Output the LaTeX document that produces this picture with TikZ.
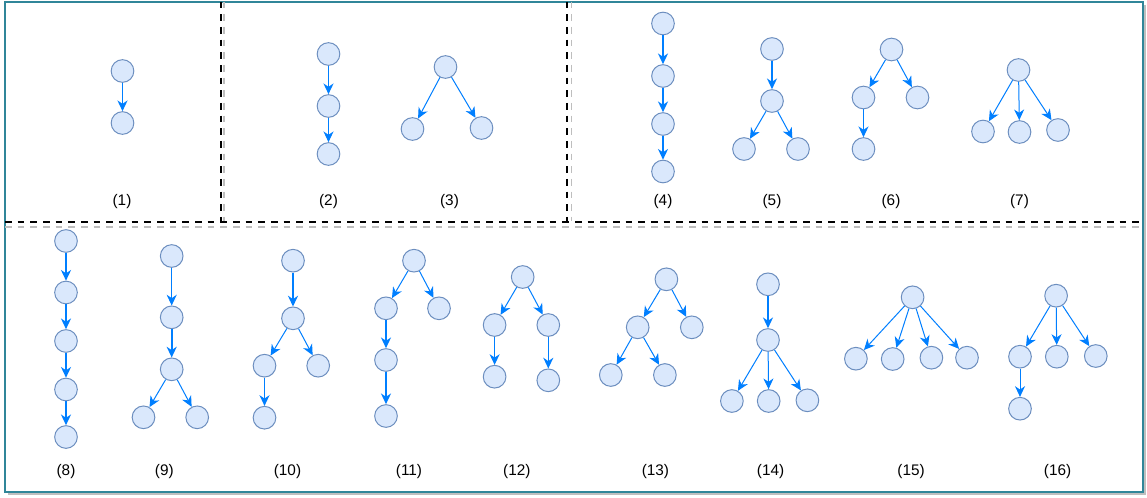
\documentclass[tikz,border=0pt]{standalone}
\usepackage{fontspec}
\setmainfont{Liberation Sans}
\usetikzlibrary{arrows.meta}
\definecolor{nodefill}{HTML}{DAE8FC}
\definecolor{nodeline}{HTML}{6C8EBF}
\definecolor{arrowblue}{HTML}{007FFF}
\definecolor{frameteal}{RGB}{48,134,153}
\definecolor{shadowgray}{RGB}{190,190,190}

\begin{document}
\begin{tikzpicture}[x=0.75pt, y=-0.75pt,
    vertex/.style={circle, draw=nodeline, fill=nodefill, line width=0.75pt, minimum size=17pt, inner sep=0pt},
    link/.style={-{Stealth[length=8pt,width=7.5pt,inset=2.5pt]}, draw=arrowblue, line width=0.75pt},
    linkthick/.style={link, line width=1.4pt},
    caption/.style={font=\fontsize{11.5}{14}\selectfont},
    cut/.style={dash pattern=on 5pt off 4.5pt, line width=1.4pt}]
            \useasboundingbox (0,0) rectangle (1147,497);

            % Frame and dividers
            \fill[black!25] (8,4.5) rectangle (1146,495);
            \draw[frameteal, fill=white, line width=1.5pt] (5,1.5) rectangle (1143,492);
            \draw[cut, shadowgray] (5,226.7) -- (1142,226.7);
            \draw[cut, shadowgray] (223.8,1.5) -- (223.8,221);
            \draw[cut, shadowgray] (571.5,1.5) -- (571.5,221);
            \draw[cut] (5,221.7) -- (1142,221.7);
            \draw[cut] (221,1.5) -- (221,221.7);
            \draw[cut] (567.3,1.5) -- (567.3,221.7);

            % Tree (1)
            \node[vertex] (t1n1) at (122.5,71) {};
            \node[vertex] (t1n2) at (122.5,123) {};
            \draw[linkthick] (t1n1) -- (t1n2);
            \node[caption] (l1) at (122,201.7) {(1)};

            % Tree (2)
            \node[vertex] (t2n1) at (328.5,54) {};
            \node[vertex] (t2n2) at (328.5,106) {};
            \node[vertex] (t2n3) at (328.5,154) {};
            \draw[linkthick] (t2n1) -- (t2n2);
            \draw[link] (t2n2) -- (t2n3);
            \node[caption] (l2) at (328.5,201.7) {(2)};

            % Tree (3)
            \node[vertex] (t3n1) at (445.5,67) {};
            \node[vertex] (t3n2) at (412.5,129) {};
            \node[vertex] (t3n3) at (481.5,128) {};
            \draw[link] (t3n1) -- (t3n2);
            \draw[link] (t3n1) -- (t3n3);
            \node[caption] (l3) at (449.5,201.7) {(3)};

            % Tree (4)
            \node[vertex] (t4n1) at (663,23.5) {};
            \node[vertex] (t4n2) at (663,76) {};
            \node[vertex] (t4n3) at (663,124) {};
            \node[vertex] (t4n4) at (663,171.5) {};
            \draw[link, line width=1.1pt] (t4n1) -- (t4n2);
            \draw[link, line width=1.1pt] (t4n2) -- (t4n3);
            \draw[link, line width=1.1pt] (t4n3) -- (t4n4);
            \node[caption] (l4) at (663,201.7) {(4)};

            % Tree (5)
            \node[vertex] (t5n1) at (772,49) {};
            \node[vertex] (t5n2) at (772,101) {};
            \node[vertex] (t5n3) at (744,149) {};
            \node[vertex] (t5n4) at (798,149) {};
            \draw[link, line width=1.1pt] (t5n1) -- (t5n2);
            \draw[link] (t5n2) -- (t5n3);
            \draw[link] (t5n2) -- (t5n4);
            \node[caption] (l5) at (772,201.7) {(5)};

            % Tree (6)
            \node[vertex] (t6n1) at (891.5,49.5) {};
            \node[vertex] (t6n2) at (863.5,97.5) {};
            \node[vertex] (t6n3) at (917.5,97.5) {};
            \node[vertex] (t6n4) at (863.5,149) {};
            \draw[link] (t6n1) -- (t6n2);
            \draw[link] (t6n1) -- (t6n3);
            \draw[link, line width=1.1pt] (t6n2) -- (t6n4);
            \node[caption] (l6) at (891,201.7) {(6)};

            % Tree (7)
            \node[vertex] (t7n1) at (1018.5,70) {};
            \node[vertex] (t7n2) at (983,131.5) {};
            \node[vertex] (t7n3) at (1019.5,132) {};
            \node[vertex] (t7n4) at (1058,130) {};
            \draw[link] (t7n1) -- (t7n2);
            \draw[link] (t7n1) -- (t7n3);
            \draw[link] (t7n1) -- (t7n4);
            \node[caption] (l7) at (1019.5,201.7) {(7)};

            % Tree (8)
            \node[vertex] (t8n1) at (66,241) {};
            \node[vertex] (t8n2) at (66,292.5) {};
            \node[vertex] (t8n3) at (66,341) {};
            \node[vertex] (t8n4) at (66,389.5) {};
            \node[vertex] (t8n5) at (66,437) {};
            \draw[linkthick] (t8n1) -- (t8n2);
            \draw[link, line width=1.1pt] (t8n2) -- (t8n3);
            \draw[link, line width=1.1pt] (t8n3) -- (t8n4);
            \draw[link, line width=1.1pt] (t8n4) -- (t8n5);
            \node[caption] (l8) at (66,471.7) {(8)};

            % Tree (9)
            \node[vertex] (t9n1) at (171.7,256) {};
            \node[vertex] (t9n2) at (171.7,317.3) {};
            \node[vertex] (t9n3) at (171.7,369.3) {};
            \node[vertex] (t9n4) at (143.5,417.3) {};
            \node[vertex] (t9n5) at (197.2,417.3) {};
            \draw[link] (t9n1) -- (t9n2);
            \draw[linkthick] (t9n2) -- (t9n3);
            \draw[link] (t9n3) -- (t9n4);
            \draw[link] (t9n3) -- (t9n5);
            \node[caption] (l9) at (164.3,471.7) {(9)};

            % Tree (10)
            \node[vertex] (t10n1) at (293,260.7) {};
            \node[vertex] (t10n2) at (293,318.3) {};
            \node[vertex] (t10n3) at (264.5,365.7) {};
            \node[vertex] (t10n4) at (318.2,365.7) {};
            \node[vertex] (t10n5) at (264.5,417.7) {};
            \draw[linkthick] (t10n1) -- (t10n2);
            \draw[link] (t10n2) -- (t10n3);
            \draw[link] (t10n2) -- (t10n4);
            \draw[link] (t10n3) -- (t10n5);
            \node[caption] (l10) at (287.5,471.7) {(10)};

            % Tree (11)
            \node[vertex] (t11n1) at (414,260.7) {};
            \node[vertex] (t11n2) at (386,308.3) {};
            \node[vertex] (t11n3) at (439,308.3) {};
            \node[vertex] (t11n4) at (386,360) {};
            \node[vertex] (t11n5) at (386,416) {};
            \draw[link] (t11n1) -- (t11n2);
            \draw[link] (t11n1) -- (t11n3);
            \draw[link, line width=1.1pt] (t11n2) -- (t11n4);
            \draw[link, line width=1.1pt] (t11n4) -- (t11n5);
            \node[caption] (l11) at (409,471.7) {(11)};

            % Tree (12)
            \node[vertex] (t12n1) at (522.7,277) {};
            \node[vertex] (t12n2) at (494.6,325) {};
            \node[vertex] (t12n3) at (548.3,325) {};
            \node[vertex] (t12n4) at (494.6,376.7) {};
            \node[vertex] (t12n5) at (548.3,380.3) {};
            \draw[link] (t12n1) -- (t12n2);
            \draw[link] (t12n1) -- (t12n3);
            \draw[link] (t12n2) -- (t12n4);
            \draw[link, line width=1.1pt] (t12n3) -- (t12n5);
            \node[caption] (l12) at (516.8,471.7) {(12)};

            % Tree (13)
            \node[vertex] (t13n1) at (666.4,279.3) {};
            \node[vertex] (t13n2) at (637.7,327.3) {};
            \node[vertex] (t13n3) at (691.8,327.3) {};
            \node[vertex] (t13n4) at (610.8,375) {};
            \node[vertex] (t13n5) at (664.9,375) {};
            \draw[link] (t13n1) -- (t13n2);
            \draw[link] (t13n1) -- (t13n3);
            \draw[link] (t13n2) -- (t13n4);
            \draw[link] (t13n2) -- (t13n5);
            \node[caption] (l13) at (655.4,471.7) {(13)};

            % Tree (14)
            \node[vertex] (t14n1) at (768,284.3) {};
            \node[vertex] (t14n2) at (768,340) {};
            \node[vertex] (t14n3) at (731.9,401) {};
            \node[vertex] (t14n4) at (768.7,401) {};
            \node[vertex] (t14n5) at (807.4,400.3) {};
            \draw[link, line width=1.1pt] (t14n1) -- (t14n2);
            \draw[link] (t14n2) -- (t14n3);
            \draw[link] (t14n2) -- (t14n4);
            \draw[link] (t14n2) -- (t14n5);
            \node[caption] (l14) at (770.6,471.7) {(14)};

            % Tree (15)
            \node[vertex] (t15n1) at (912.6,297.3) {};
            \node[vertex] (t15n2) at (855.9,358.7) {};
            \node[vertex] (t15n3) at (892.7,359) {};
            \node[vertex] (t15n4) at (931.4,357.7) {};
            \node[vertex] (t15n5) at (967,357.7) {};
            \draw[link] (t15n1) -- (t15n2);
            \draw[link] (t15n1) -- (t15n3);
            \draw[link] (t15n1) -- (t15n4);
            \draw[link] (t15n1) -- (t15n5);
            \node[caption] (l15) at (911.1,471.7) {(15)};

            % Tree (16)
            \node[vertex] (t16n1) at (1056.1,295.7) {};
            \node[vertex] (t16n2) at (1020,356.7) {};
            \node[vertex] (t16n3) at (1056.8,356.7) {};
            \node[vertex] (t16n4) at (1095.8,356) {};
            \node[vertex] (t16n5) at (1020,408.7) {};
            \draw[link] (t16n1) -- (t16n2);
            \draw[link] (t16n1) -- (t16n3);
            \draw[link] (t16n1) -- (t16n4);
            \draw[link] (t16n2) -- (t16n5);
            \node[caption] (l16) at (1057.6,471.7) {(16)};
        \end{tikzpicture}
\end{document}
